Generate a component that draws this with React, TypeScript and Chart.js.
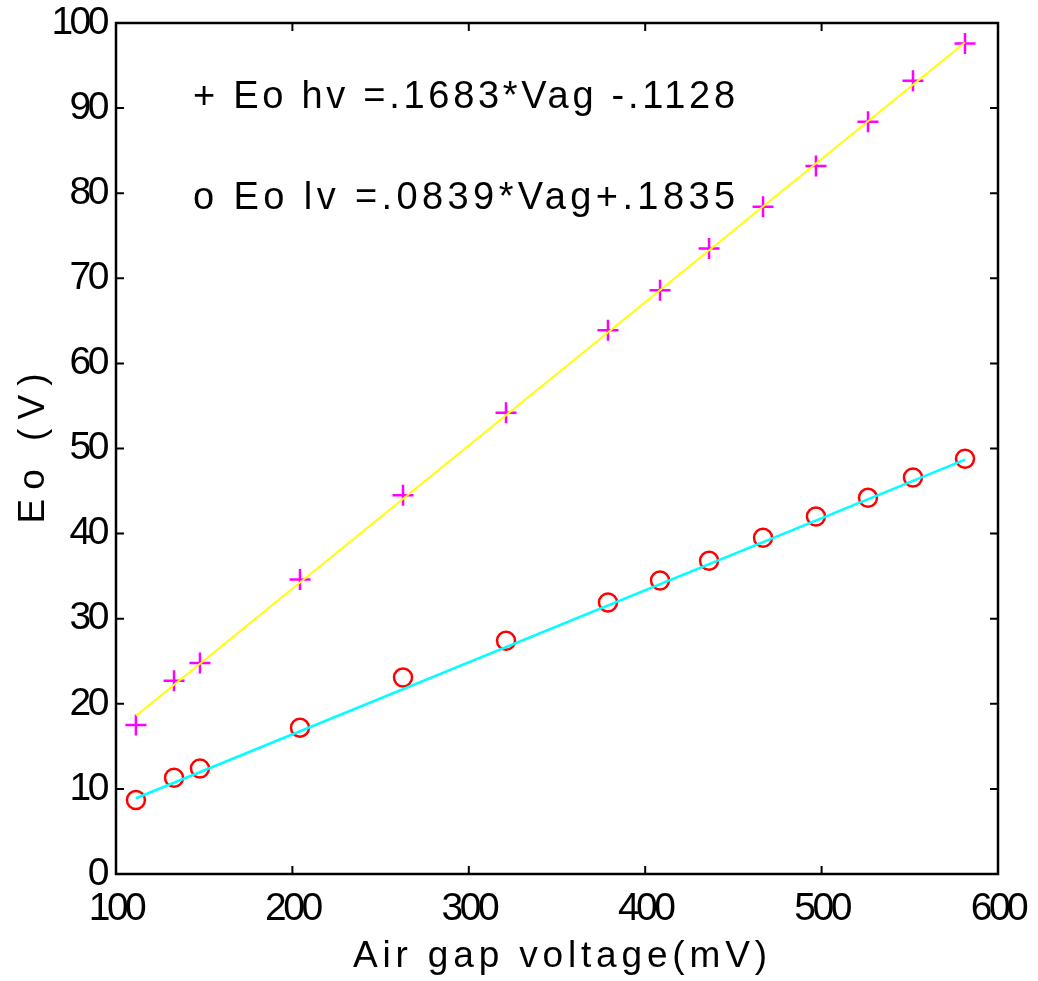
import React, { useEffect, useRef } from "react";
import { Chart, registerables } from "chart.js";

Chart.register(...registerables);

// ---- data ----
const airGapVoltage = [111.3, 132.9, 147.6, 204.3, 262.7, 321.1, 378.9, 408.4, 436.2, 466.8, 496.8, 526.3, 551.8, 581.3];
const eoHv = [17.5, 22.7, 24.8, 34.6, 44.5, 54.2, 63.9, 68.6, 73.5, 78.4, 83.2, 88.4, 93.2, 97.6];
const eoLv = [8.7, 11.3, 12.4, 17.2, 23.1, 27.4, 31.9, 34.5, 36.8, 39.5, 42.0, 44.2, 46.6, 48.8];
const fitX = [111.3, 581.3];
const fitHv = [18.6, 97.7];
const fitLv = [8.9, 48.7];
const xTicks = [100, 200, 300, 400, 500, 600];
const yTicks = [0, 10, 20, 30, 40, 50, 60, 70, 80, 90, 100];
const xTitle = "Air gap voltage(mV)";
const yTitle = "Eo (V)";
const notes = ["+ Eo hv =.1683*Vag -.1128", "o Eo lv =.0839*Vag+.1835"];
const noteX = [143.7, 143.7];
const noteY = [90.0, 78.1];

const FONT = "'Liberation Sans', Arial, Helvetica, sans-serif";

function drawSpaced(
  ctx: CanvasRenderingContext2D,
  text: string,
  x: number,
  y: number,
  targetWidth: number,
  center: boolean
) {
  (ctx as any).letterSpacing = "0px";
  const w = ctx.measureText(text).width;
  const ls = (targetWidth - w) / Math.max(1, text.length - 1);
  (ctx as any).letterSpacing = ls + "px";
  ctx.textAlign = "left";
  const sx = center ? x - targetWidth / 2 : x;
  ctx.fillText(text, sx, y);
  (ctx as any).letterSpacing = "0px";
}

const framePlugin = {
  id: "matlabFrame",
  beforeDraw(chart: any) {
    // condensed tick digits like the reference
    (chart.ctx as any).letterSpacing = "-3.5px";
  },
  afterDraw(chart: any) {
    const ctx: CanvasRenderingContext2D = chart.ctx;
    (ctx as any).letterSpacing = "0px";
    const { left, right, top, bottom } = chart.chartArea;
    const xs = chart.scales.x;
    const ys = chart.scales.y;
    ctx.save();
    ctx.strokeStyle = "#000";
    ctx.lineWidth = 2.5;
    ctx.strokeRect(left, top, right - left, bottom - top);
    ctx.lineWidth = 2;
    const tl = 8;
    ctx.beginPath();
    xTicks.forEach((v) => {
      const px = xs.getPixelForValue(v);
      ctx.moveTo(px, bottom);
      ctx.lineTo(px, bottom - tl);
      ctx.moveTo(px, top);
      ctx.lineTo(px, top + tl);
    });
    yTicks.forEach((v) => {
      const py = ys.getPixelForValue(v);
      ctx.moveTo(left, py);
      ctx.lineTo(left + tl, py);
      ctx.moveTo(right, py);
      ctx.lineTo(right - tl, py);
    });
    ctx.stroke();

    ctx.fillStyle = "#000";
    ctx.textBaseline = "alphabetic";
    // annotations
    ctx.font = "38px " + FONT;
    notes.forEach((t, i) => {
      drawSpaced(ctx, t, xs.getPixelForValue(noteX[i]), ys.getPixelForValue(noteY[i]), 542, false);
    });
    // x title
    ctx.font = "37px " + FONT;
    drawSpaced(ctx, xTitle, (left + right) / 2 + 3, bottom + 93, 414, true);
    // y title
    ctx.font = "37px " + FONT;
    ctx.translate(44, (top + bottom) / 2);
    ctx.rotate(-Math.PI / 2);
    drawSpaced(ctx, yTitle, 0, 0, 150, true);
    ctx.restore();
  },
};

export default function App() {
  const ref = useRef<HTMLCanvasElement | null>(null);
  useEffect(() => {
    document.body.style.margin = "0";
    const canvas = ref.current!;
    const chart = new Chart(canvas, {
      type: "scatter",
      data: {
        datasets: [
          {
            label: "hv fit",
            data: fitX.map((x, i) => ({ x, y: fitHv[i] })),
            showLine: true,
            borderColor: "#ffff00",
            borderWidth: 2,
            pointRadius: 0,
          },
          {
            label: "lv fit",
            data: fitX.map((x, i) => ({ x, y: fitLv[i] })),
            showLine: true,
            borderColor: "#00ffff",
            borderWidth: 2.5,
            pointRadius: 0,
          },
          {
            label: "Eo hv",
            data: airGapVoltage.map((x, i) => ({ x, y: eoHv[i] })),
            showLine: false,
            pointStyle: "cross",
            pointRadius: 10.5,
            borderColor: "#ff00ff",
            backgroundColor: "#ff00ff",
            pointBorderWidth: 2.5,
          },
          {
            label: "Eo lv",
            data: airGapVoltage.map((x, i) => ({ x, y: eoLv[i] })),
            showLine: false,
            pointStyle: "circle",
            pointRadius: 9,
            borderColor: "#ff0000",
            backgroundColor: "rgba(0,0,0,0)",
            pointBorderWidth: 2.5,
          },
        ],
      },
      options: {
        responsive: false,
        animation: false,
        devicePixelRatio: 1,
        layout: { padding: { top: 23, right: 40, left: 0, bottom: 0 } },
        plugins: { legend: { display: false }, tooltip: { enabled: false } },
        scales: {
          x: {
            type: "linear",
            min: 100,
            max: 600,
            grid: { display: false, drawTicks: false },
            border: { display: false },
            ticks: {
              stepSize: 100,
              padding: 12,
              color: "#000",
              font: { family: FONT, size: 39 },
              maxRotation: 0,
            },
            afterFit: (s: any) => {
              s.height = 107;
              s.paddingLeft = 0;
              s.paddingRight = 0;
            },
          },
          y: {
            type: "linear",
            min: 0,
            max: 100,
            grid: { display: false, drawTicks: false },
            border: { display: false },
            ticks: {
              stepSize: 10,
              padding: 10,
              color: "#000",
              font: { family: FONT, size: 39 },
            },
            afterFit: (s: any) => {
              s.width = 116;
              s.paddingTop = 0;
              s.paddingBottom = 0;
            },
          },
        },
      },
      plugins: [framePlugin],
    });
    return () => chart.destroy();
  }, []);
  return (
    <div style={{ position: "absolute", left: 0, top: 0, width: 1038, height: 981, background: "#fff" }}>
      <canvas ref={ref} width={1038} height={981} />
    </div>
  );
}
